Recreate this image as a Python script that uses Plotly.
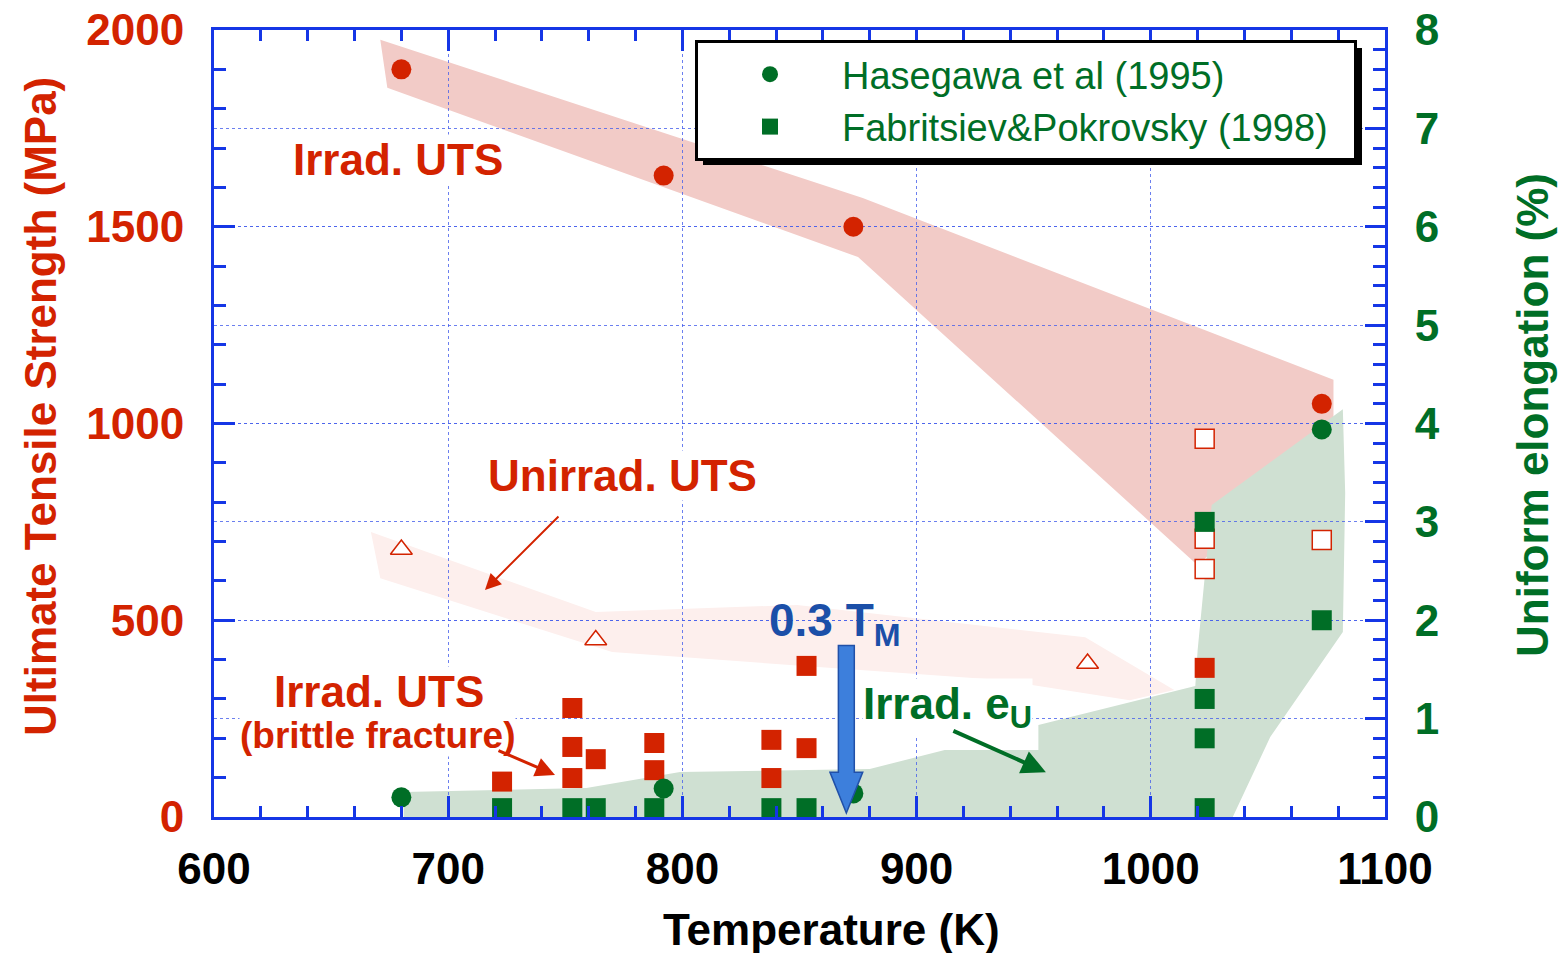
import plotly.graph_objects as go

# ---------------- data ----------------
# Hasegawa et al (1995): irradiated UTS (MPa) and uniform elongation (%)
T_hase = [680, 792, 873, 1073]
uts_irr_hase = [1900, 1630, 1500, 1050]
eu_hase = [0.20, 0.29, 0.24, 3.94]

# Hasegawa et al (1995): unirradiated UTS (MPa)
T_unirr_hase = [680, 763, 973]
uts_unirr_hase = [680, 450, 390]

# Fabritsiev & Pokrovsky (1998): irradiated UTS, brittle fracture (MPa)
T_fp_uts = [723, 753, 753, 753, 763, 788, 788, 838, 838, 853, 853, 1023]
uts_fp = [90, 277, 178, 99, 147, 188, 119, 196, 99, 384, 175, 379]

# Fabritsiev & Pokrovsky (1998): unirradiated UTS (MPa)
T_fp_unirr = [1023, 1023, 1023, 1073]
uts_fp_unirr = [961, 707, 630, 704]

# Fabritsiev & Pokrovsky (1998): uniform elongation (%)
T_fp_eu = [723, 753, 763, 788, 838, 853, 1023, 1023, 1023, 1023, 1073]
eu_fp = [0.09, 0.09, 0.09, 0.09, 0.09, 0.09, 0.09, 0.80, 1.20, 3.00, 2.00]

# trend bands (outline vertices)
band_irr_T = [671, 877, 1078, 1078, 1020, 875, 674]
band_irr_uts = [1975, 1573, 1111, 958, 640, 1423, 1853]

band_unirr_T = [667, 763, 849, 972, 1010, 991, 936, 770, 671]
band_unirr_uts = [724, 521, 539, 457, 323, 297, 348, 419, 607]

band_eu_T = [681, 681, 759, 799, 880, 912, 952, 952, 1019, 1020, 1026, 1082, 1083, 1082, 1051, 1035]
band_eu = [0.0, 0.254, 0.295, 0.457, 0.488, 0.681, 0.681, 0.935, 1.331, 1.697, 3.171, 4.146, 3.293, 1.880, 0.813, 0.0]

T_03TM = 870  # 0.3 of the melting temperature

x_ticks = [600, 700, 800, 900, 1000, 1100]
y_ticks = [0, 500, 1000, 1500, 2000]
y2_ticks = [0, 1, 2, 3, 4, 5, 6, 7, 8]

# ---------------- style ----------------
FONT = "Liberation Sans, Arial, Helvetica, sans-serif"
RED = "#d32300"
GREEN = "#006e26"
AXIS_BLUE = "#1536e6"
GRID_BLUE = "rgba(70,95,235,0.8)"
TEXT_BLUE = "#1b4fa8"

fig = go.Figure()


def poly_path(xs, ys):
    return "M " + " L ".join(f"{x},{y}" for x, y in zip(xs, ys)) + " Z"


shapes = [
    dict(type="path", xref="x", yref="y", path=poly_path(band_irr_T, band_irr_uts),
         fillcolor="#f2cbc7", line=dict(width=0), layer="below"),
    dict(type="path", xref="x", yref="y", path=poly_path(band_unirr_T, band_unirr_uts),
         fillcolor="#fdefed", line=dict(width=0), layer="below"),
    dict(type="path", xref="x", yref="y2", path=poly_path(band_eu_T, band_eu),
         fillcolor="#cfe0d2", line=dict(width=0), layer="below"),
]

# block arrow marking 0.3 T_M
bw, hw = 3.4, 7.0
arrow_x = [T_03TM - bw, T_03TM + bw, T_03TM + bw, T_03TM + hw, T_03TM,
           T_03TM - hw, T_03TM - bw]
arrow_y = [436, 436, 114, 114, 10, 114, 114]
shapes.append(dict(type="path", xref="x", yref="y", path=poly_path(arrow_x, arrow_y),
                   fillcolor="#3d7fdc", line=dict(color="#2150a8", width=1.5),
                   layer="above"))

# unirradiated / irradiated UTS markers (left axis)
fig.add_trace(go.Scatter(x=T_unirr_hase, y=uts_unirr_hase, mode="markers", showlegend=False,
                         marker=dict(symbol="triangle-up", size=19, color="white",
                                     line=dict(color=RED, width=1.5))))
fig.add_trace(go.Scatter(x=T_fp_unirr, y=uts_fp_unirr, mode="markers", showlegend=False,
                         marker=dict(symbol="square", size=19, color="white",
                                     line=dict(color=RED, width=1.5))))
fig.add_trace(go.Scatter(x=T_fp_uts, y=uts_fp, mode="markers", showlegend=False,
                         marker=dict(symbol="square", size=20, color=RED,
                                     line=dict(width=0))))
fig.add_trace(go.Scatter(x=T_hase, y=uts_irr_hase, mode="markers", showlegend=False,
                         marker=dict(symbol="circle", size=20, color=RED,
                                     line=dict(width=0))))

# uniform elongation markers (right axis)
fig.add_trace(go.Scatter(x=T_hase, y=eu_hase, yaxis="y2", mode="markers",
                         name="Hasegawa et al (1995)",
                         marker=dict(symbol="circle", size=20, color=GREEN,
                                     line=dict(width=0))))
fig.add_trace(go.Scatter(x=T_fp_eu, y=eu_fp, yaxis="y2", mode="markers",
                         name="Fabritsiev&Pokrovsky (1998)&nbsp;&nbsp;",
                         marker=dict(symbol="square", size=20, color=GREEN,
                                     line=dict(width=0))))

# pixel -> paper helpers for the plot frame
X0, X1, Y0, Y1 = 214, 1385, 817, 30


def px_x(p):
    return (p - X0) / (X1 - X0)


def px_y(p):
    return (Y0 - p) / (Y0 - Y1)


# legend drop shadow
shapes.append(dict(type="rect", xref="paper", yref="paper",
                   x0=px_x(703), x1=px_x(1362), y0=px_y(165), y1=px_y(48),
                   fillcolor="black", line=dict(width=0), layer="above"))


def label(text, x, y, color, size=44, bg=None, **kw):
    d = dict(text=f"<b>{text}</b>", x=x, y=y, xref="x", yref="y", showarrow=False,
             xanchor="center", yanchor="middle",
             font=dict(family=FONT, size=size, color=color))
    if bg:
        d.update(bgcolor=bg, borderpad=0)
    d.update(kw)
    return d


def title(text, px, py, color, angle=0):
    return dict(text=f"<b>{text}</b>", x=px_x(px), y=px_y(py), xref="paper", yref="paper",
                showarrow=False, xanchor="center", yanchor="middle", textangle=angle,
                font=dict(family=FONT, size=44, color=color))


annotations = [
    label("Irrad. UTS", 678.6, 1670, RED, bg="white"),
    label("Unirrad. UTS", 774.6, 869, RED, bg="white"),
    label("Irrad. UTS", 670.5, 318, RED, bg="white"),
    label("(brittle fracture)", 670.0, 208, RED, size=37, bg="white"),
    label("Irrad. e<sub>U</sub>", 913.4, 280, GREEN, bg="white"),
    label("0.3 T<sub>M</sub>", 865.2, 492, TEXT_BLUE, size=46),
    # pointer arrows
    dict(x=715.7, y=577, xref="x", yref="y", text="", showarrow=True, ax=75, ay=-75,
         arrowhead=2, arrowsize=1.6, arrowwidth=2, arrowcolor=RED, standoff=0),
    dict(x=745.6, y=107, xref="x", yref="y", text="", showarrow=True, ax=-58, ay=-25,
         arrowhead=2, arrowsize=1.3, arrowwidth=3, arrowcolor=RED, standoff=0),
    dict(x=955.2, y=114, xref="x", yref="y", text="", showarrow=True, ax=-94, ay=-42,
         arrowhead=2, arrowsize=1.2, arrowwidth=4, arrowcolor=GREEN, standoff=0),
    # axis titles
    title("Temperature (K)", 831, 930, "black"),
    title("Ultimate Tensile Strength (MPa)", 40, 407, RED, -90),
    title("Uniform elongation (%)", 1532, 415, GREEN, -90),
]

axis_common = dict(showline=True, linecolor=AXIS_BLUE, linewidth=3, ticks="inside",
                   tickcolor=AXIS_BLUE, tickwidth=3, zeroline=False, automargin=False,
                   griddash="dot", gridwidth=1)

fig.update_layout(
    width=1562, height=953,
    margin=dict(l=X0, r=1562 - X1, t=Y1, b=953 - Y0, autoexpand=False),
    paper_bgcolor="white", plot_bgcolor="white",
    font=dict(family=FONT),
    xaxis=dict(range=[600, 1100], tickvals=x_ticks, ticklen=21, mirror="ticks",
               showgrid=True, gridcolor=GRID_BLUE, ticklabelstandoff=11,
               tickfont=dict(family=FONT, size=44, color="black", weight="bold"),
               minor=dict(dtick=20, ticklen=11, tickwidth=3, tickcolor=AXIS_BLUE,
                          ticks="inside", showgrid=False),
               **axis_common),
    yaxis=dict(range=[0, 2000], tickvals=y_ticks, ticklen=21, showgrid=True,
               gridcolor=GRID_BLUE, ticklabelstandoff=18,
               tickfont=dict(family=FONT, size=44, color=RED, weight="bold"),
               minor=dict(dtick=100, ticklen=12, tickwidth=3, tickcolor=AXIS_BLUE,
                          ticks="inside", showgrid=False),
               **axis_common),
    yaxis2=dict(range=[0, 8], tickvals=y2_ticks, overlaying="y", side="right", anchor="x",
                ticklen=20, showgrid=True, gridcolor=GRID_BLUE, ticklabelstandoff=18,
                tickfont=dict(family=FONT, size=44, color=GREEN, weight="bold"),
                minor=dict(dtick=0.2, ticklen=12, tickwidth=3, tickcolor=AXIS_BLUE,
                           ticks="inside", showgrid=False),
                **axis_common),
    legend=dict(x=px_x(695), y=px_y(40), xanchor="left", yanchor="top",
                bgcolor="white", bordercolor="black", borderwidth=3,
                itemwidth=134, font=dict(family=FONT, size=38, color=GREEN)),
    shapes=shapes,
    annotations=annotations,
)

fig.write_html("out.html")
